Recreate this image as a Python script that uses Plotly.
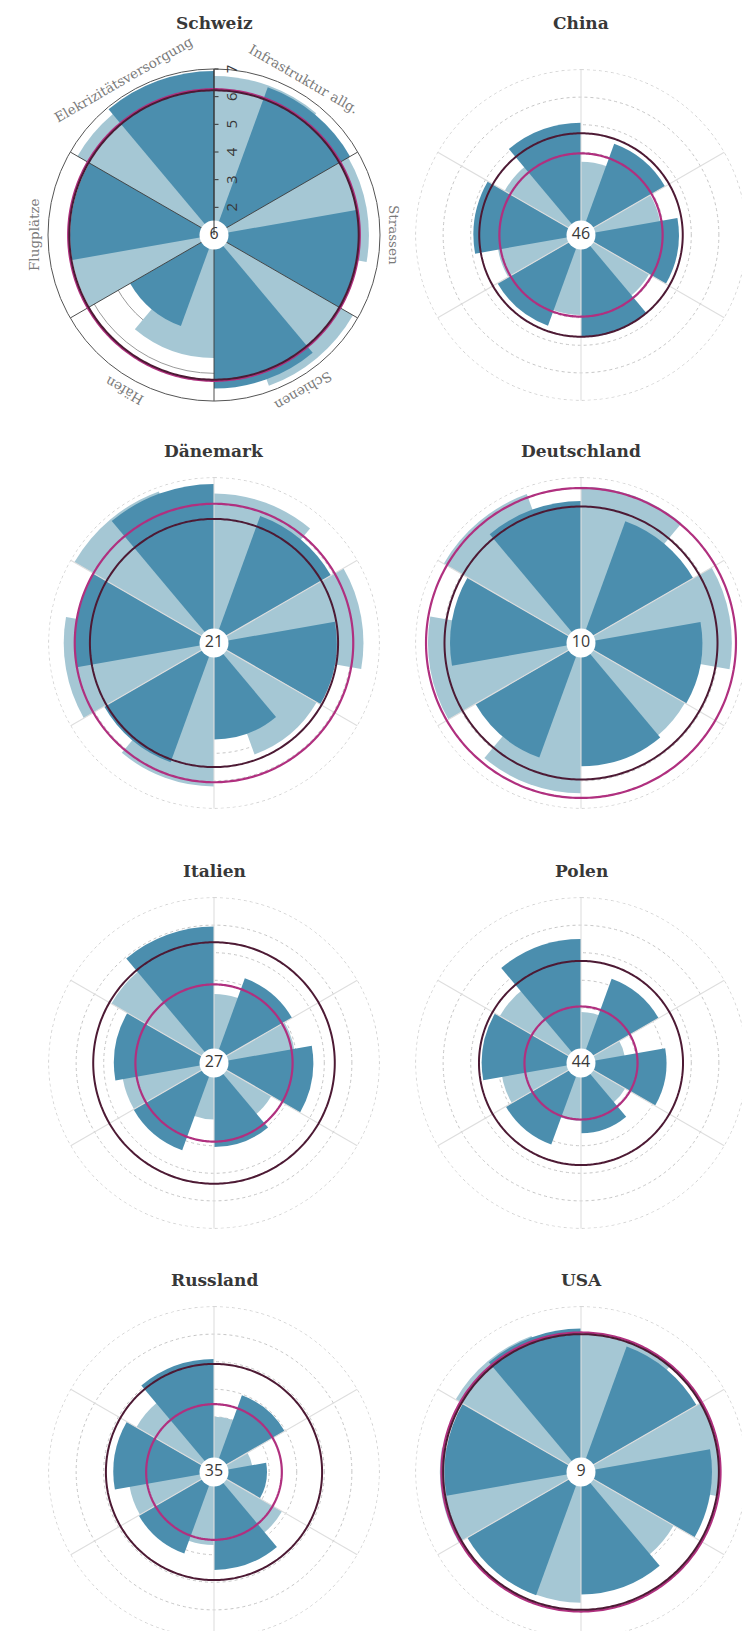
import numpy as np
import plotly.graph_objects as go

# ---------------- data ----------------
countries = ["Schweiz", "China", "Dänemark", "Deutschland", "Italien", "Polen", "Russland", "USA"]
ranks = [6, 46, 21, 10, 27, 44, 35, 9]
categories = ["Infrastruktur allg.", "Strassen", "Schienen", "Häfen", "Flugplätze", "Elekrizitätsversorgung"]

# light wedges (earlier values), per country, in category order
earlier_schweiz = [6.75, 6.6, 6.8, 5.45, 6.2, 6.7]
earlier_china = [3.66, 3.9, 3.85, 3.9, 4.05, 4.2]
earlier_daenemark = [6.42, 6.42, 5.3, 6.2, 6.45, 6.85]
earlier_deutschland = [6.67, 6.47, 5.35, 6.45, 6.55, 6.75]
earlier_italien = [3.5, 3.95, 3.4, 3.05, 4.35, 5.3]
earlier_polen = [2.85, 2.6, 2.85, 3.1, 3.9, 4.4]
earlier_russland = [3.0, 2.4, 3.85, 3.65, 4.1, 4.25]
earlier_usa = [6.0, 6.0, 4.88, 5.74, 6.12, 6.25]

# dark wedges (later values)
later_schweiz = [6.68, 6.22, 6.55, 4.5, 6.2, 6.93]
later_china = [4.52, 4.55, 4.7, 4.5, 4.9, 5.07]
later_daenemark = [5.9, 5.45, 4.5, 5.6, 6.05, 6.77]
later_deutschland = [5.7, 5.4, 5.47, 5.42, 5.75, 6.15]
later_italien = [4.27, 4.6, 4.05, 4.37, 4.63, 5.95]
later_polen = [4.25, 4.1, 3.55, 4.15, 4.6, 5.5]
later_russland = [3.96, 2.92, 4.55, 4.15, 4.65, 5.1]
later_usa = [5.84, 5.75, 5.44, 5.76, 5.95, 6.2]

# reference circles
circle_magenta = [6.27, 3.96, 6.05, 6.62, 3.85, 3.05, 3.46, 6.06]
circle_dark = [6.23, 4.69, 5.5, 5.95, 5.38, 4.7, 4.92, 6.0]

radial_ticks = [2, 3, 4, 5, 6, 7]
radial_ticktext = ["2", "3", "4", "5", "6", "7"]
scale_max = 7

earlier = [earlier_schweiz, earlier_china, earlier_daenemark, earlier_deutschland,
           earlier_italien, earlier_polen, earlier_russland, earlier_usa]
later = [later_schweiz, later_china, later_daenemark, later_deutschland,
         later_italien, later_polen, later_russland, later_usa]

# ---------------- style / layout ----------------
W, H = 750, 1631
R_PX = 166
col_x = [206, 573]
row_y = [227, 635, 1055, 1464]
title_y = [15, 443, 863, 1272]

C_DARK = "#4b8eae"
C_LIGHT = "#a5c7d4"
C_MAGENTA = "#b0307f"
C_MAROON = "#4d1a34"
TXT = "#383838"

n_cat = len(categories)
sector = 360 / n_cat
boundaries = [i * sector for i in range(n_cat)]
theta_light = [b + sector / 3 for b in boundaries]
theta_dark = [b + 2 * sector / 3 for b in boundaries]
wedge_w = 2 * sector / 3

fig = go.Figure()
annotations = []
circ_theta = list(np.linspace(0, 360, 361))

for k, country in enumerate(countries):
    sp = "polar" if k == 0 else f"polar{k + 1}"
    cx = col_x[k % 2]
    cy = row_y[k // 2]
    is_main = (k == 0)
    rmax = scale_max if is_main else scale_max + 0.02

    if not is_main:
        fig.add_trace(go.Scatterpolar(r=[scale_max] * len(circ_theta), theta=circ_theta,
                                      mode="lines", line=dict(color="#c6c6c6", width=0.8, dash="dot"),
                                      subplot=sp, showlegend=False, hoverinfo="skip"))

    fig.add_trace(go.Barpolar(r=earlier[k], theta=theta_light, width=[wedge_w] * n_cat,
                              marker=dict(color=C_LIGHT, line=dict(width=0)),
                              subplot=sp, showlegend=False, hoverinfo="skip"))
    fig.add_trace(go.Barpolar(r=later[k], theta=theta_dark, width=[wedge_w] * n_cat,
                              marker=dict(color=C_DARK, line=dict(width=0)),
                              subplot=sp, showlegend=False, hoverinfo="skip"))

    # sector separators
    sr, st = [], []
    for b in boundaries:
        sr += [1, scale_max, None]
        st += [b, b, None]
    fig.add_trace(go.Scatterpolar(r=sr, theta=st, mode="lines",
                                  line=dict(color="#3a3a3a" if is_main else "#dedede",
                                            width=0.9 if is_main else 1.1),
                                  subplot=sp, showlegend=False, hoverinfo="skip"))

    fig.add_trace(go.Scatterpolar(r=[circle_magenta[k]] * len(circ_theta), theta=circ_theta,
                                  mode="lines", line=dict(color=C_MAGENTA, width=2.2),
                                  subplot=sp, showlegend=False, hoverinfo="skip"))
    fig.add_trace(go.Scatterpolar(r=[circle_dark[k]] * len(circ_theta), theta=circ_theta,
                                  mode="lines", line=dict(color=C_MAROON, width=2.0),
                                  subplot=sp, showlegend=False, hoverinfo="skip"))

    fig.add_trace(go.Scatterpolar(r=[1], theta=[0], mode="markers+text",
                                  marker=dict(color="white", size=29, line=dict(width=0)),
                                  text=[str(ranks[k])], textposition="middle center",
                                  textfont=dict(family="Open Sans", size=16, color=TXT),
                                  cliponaxis=False,
                                  subplot=sp, showlegend=False, hoverinfo="skip"))

    dom_x = [max(0, (cx - R_PX) / W), min(1, (cx + R_PX) / W)]
    dom_y = [max(0, 1 - (cy + R_PX) / H), min(1, 1 - (cy - R_PX) / H)]

    if is_main:
        radial = dict(range=[1, rmax], tickvals=radial_ticks, ticktext=radial_ticktext,
                      showticklabels=True, showline=True, linecolor="#333", linewidth=1,
                      ticks="outside", ticklen=4, tickcolor="#333", angle=90, side="clockwise",
                      tickfont=dict(family="Open Sans", size=15, color=TXT),
                      showgrid=True, gridcolor="#9a9a9a", gridwidth=0.6,
                      layer="above traces")
        angular = dict(direction="clockwise", rotation=90, tickvals=boundaries,
                       showticklabels=False, ticks="", showgrid=False,
                       showline=True, linecolor="#555", linewidth=1)
    else:
        radial = dict(range=[1, rmax], tickvals=radial_ticks, showticklabels=False,
                      showline=False, ticks="", showgrid=True, gridcolor="#c6c6c6",
                      gridwidth=0.8, griddash="dot", layer="below traces")
        angular = dict(direction="clockwise", rotation=90, tickvals=boundaries,
                       showticklabels=False, ticks="", showgrid=False, showline=False)

    fig.update_layout({sp: dict(domain=dict(x=dom_x, y=dom_y), bgcolor="rgba(0,0,0,0)",
                                barmode="overlay", hole=0,
                                radialaxis=radial, angularaxis=angular)})

    annotations.append(dict(text=f"<b>{country}</b>", x=cx / W, y=1 - title_y[k // 2] / H,
                            xref="paper", yref="paper", showarrow=False,
                            xanchor="center", yanchor="middle",
                            font=dict(family="DejaVu Serif", size=17, color=TXT)))

    if is_main:
        for i, cat in enumerate(categories):
            mid = boundaries[i] + sector / 2
            rad = np.deg2rad(mid)
            rl = R_PX + 14
            lx = cx + rl * np.sin(rad)
            ly = cy - rl * np.cos(rad)
            ang = mid if mid <= 180 else mid - 360
            annotations.append(dict(text=cat, x=lx / W, y=1 - ly / H, xref="paper", yref="paper",
                                    showarrow=False, xanchor="center", yanchor="middle",
                                    textangle=ang,
                                    font=dict(family="DejaVu Serif", size=13.5, color="#7a7a7a")))

fig.update_layout(width=W, height=H, margin=dict(l=0, r=0, t=0, b=0),
                  paper_bgcolor="white", plot_bgcolor="white",
                  annotations=annotations, showlegend=False)

fig.write_html("out.html")
